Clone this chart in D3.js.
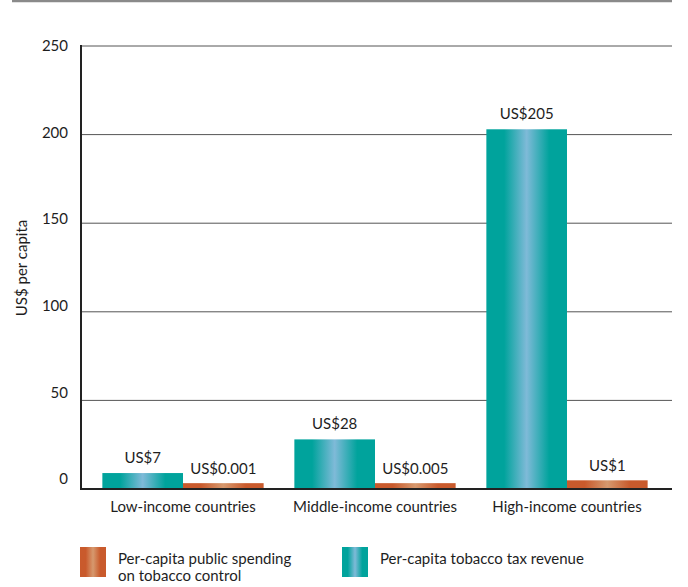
<!DOCTYPE html>
<html>
<head>
<meta charset="utf-8">
<script src="https://cdn.jsdelivr.net/npm/d3@7"></script>
<style>
  body { margin: 0; background: #fff; }
  text { font-family: Lato, "Open Sans", sans-serif; fill: #1e1e1e; }
</style>
</head>
<body>
<svg id="svg1" width="688" height="587"></svg>
<script>
// chart values
var categories = ["Low-income countries", "Middle-income countries", "High-income countries"];
var taxRevenue = [9, 28, 203];          // bar heights
var taxLabels = ["US$7", "US$28", "US$205"];
var spending = [3.3, 3.3, 4.9];         // drawn taller than real value in the original
var spendLabels = ["US$0.001", "US$0.005", "US$1"];
var yTicks = [0, 50, 100, 150, 200, 250];
var legendNames = ["Per-capita public spending|on tobacco control", "Per-capita tobacco tax revenue"];

const svg = d3.select("#svg1");

// gradients for the bars
var defs = svg.append("defs");
function grad(id, edge, mid) {
  var g = defs.append("linearGradient").attr("id", id).attr("x1", "0%").attr("x2", "100%").attr("y1", "0%").attr("y2", "0%");
  g.append("stop").attr("offset", "0%").attr("stop-color", edge);
  g.append("stop").attr("offset", "22%").attr("stop-color", edge);
  g.append("stop").attr("offset", "50%").attr("stop-color", mid);
  g.append("stop").attr("offset", "78%").attr("stop-color", edge);
  g.append("stop").attr("offset", "100%").attr("stop-color", edge);
}
grad("teal", "#00a39c", "#7fbad8");
grad("orange", "#c95a2c", "#d6996e");

const x = d3.scaleBand().domain(categories).range([87, 663]).paddingInner(0.16).paddingOuter(0.08),
      y = d3.scaleLinear().domain([0, 250]).range([489, 46]),
      yLab = d3.scaleLinear().domain([0, 250]).range([479, 46]),   // labels sit a bit off the lines like the original
      sub = d3.scaleBand().domain([0, 1]).range([0, x.bandwidth()]);

// top rule
svg.append("line").attr("x1", 12).attr("x2", 672).attr("y1", 1).attr("y2", 1)
   .attr("stroke", "#8a8a8a").attr("stroke-width", 2.5);

// gridlines
svg.selectAll(".grid").data(yTicks.filter(d => d > 0)).enter().append("line")
   .attr("x1", 81).attr("x2", 672)
   .attr("y1", d => y(d)).attr("y2", d => y(d))
   .attr("stroke", "#555").attr("stroke-width", 1);

// tick labels
svg.selectAll(".ylab").data(yTicks).enter().append("text")
   .attr("x", 68).attr("y", d => yLab(d)).attr("dy", "0.35em")
   .attr("text-anchor", "end").style("font-size", "15px")
   .text(d => d);

// bars
var grp = svg.selectAll(".grp").data(categories).enter().append("g")
   .attr("transform", d => `translate(${x(d)},0)`);

grp.append("rect")
   .attr("x", sub(0)).attr("width", sub.bandwidth())
   .attr("y", (d, i) => y(taxRevenue[i]))
   .attr("height", (d, i) => y(0) - y(taxRevenue[i]))
   .style("fill", "url(#teal)");

grp.append("rect")
   .attr("x", sub(1)).attr("width", sub.bandwidth())
   .attr("y", (d, i) => y(spending[i]))
   .attr("height", (d, i) => y(0) - y(spending[i]))
   .style("fill", "url(#orange)");

grp.append("text")
   .attr("x", sub(0) + sub.bandwidth() / 2)
   .attr("y", (d, i) => y(taxRevenue[i]) - 10)
   .attr("text-anchor", "middle").style("font-size", "15px")
   .text((d, i) => taxLabels[i]);

grp.append("text")
   .attr("x", sub(1) + sub.bandwidth() / 2)
   .attr("y", (d, i) => y(spending[i]) - 9)
   .attr("text-anchor", "middle").style("font-size", "15px")
   .text((d, i) => spendLabels[i]);

// axes lines
svg.append("line").attr("x1", 81).attr("x2", 81).attr("y1", 45).attr("y2", 490)
   .attr("stroke", "#222").attr("stroke-width", 2);
svg.append("line").attr("x1", 80).attr("x2", 672).attr("y1", 489).attr("y2", 489)
   .attr("stroke", "#222").attr("stroke-width", 2);

// category labels
svg.selectAll(".cat").data(categories).enter().append("text")
   .attr("x", d => x(d) + x.bandwidth() / 2).attr("y", 512)
   .attr("text-anchor", "middle").style("font-size", "15px")
   .text(d => d);

// y axis title
svg.append("text")
   .attr("transform", "rotate(-90)")
   .attr("x", -268).attr("y", 27)
   .style("text-anchor", "middle").style("font-size", "15px")
   .text("US$ per capita");

// legend
var leg = [{x: 80, fill: "url(#orange)"}, {x: 342, fill: "url(#teal)"}];
leg.forEach(function(l, i) {
  svg.append("rect").attr("x", l.x).attr("y", 547).attr("width", 26).attr("height", 30).style("fill", l.fill);
  var t = svg.append("text").attr("x", l.x + 38).attr("y", 564).style("font-size", "15px");
  legendNames[i].split("|").forEach(function(s, j) {
    t.append("tspan").attr("x", l.x + 38).attr("dy", j ? 17 : 0).text(s);
  });
});
</script>
</body>
</html>
